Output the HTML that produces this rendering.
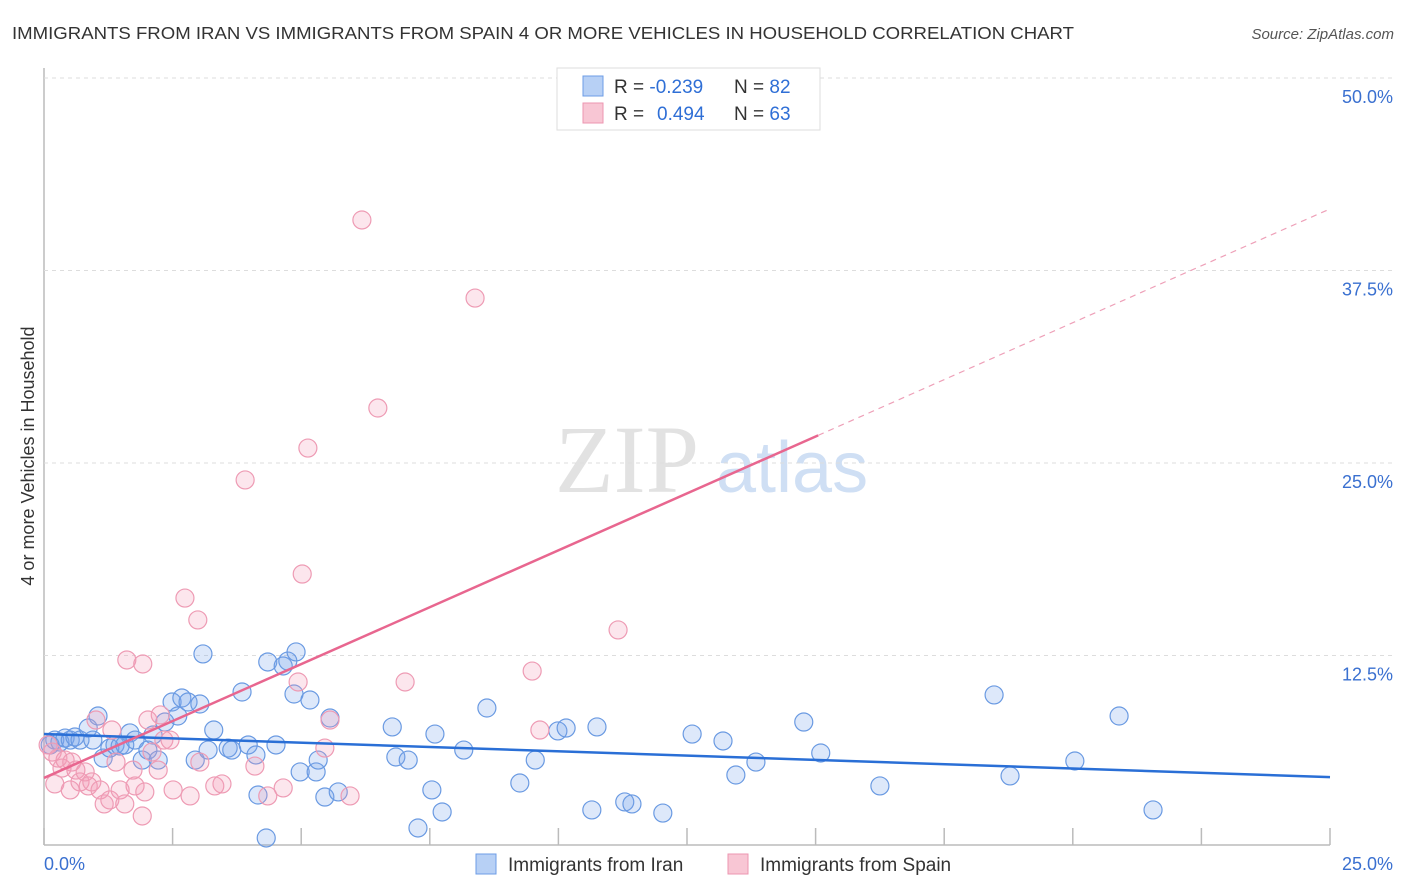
<!DOCTYPE html>
<html><head><meta charset="utf-8"><style>
body{margin:0;background:#fff;font-family:"Liberation Sans",sans-serif;}
#wrap{position:relative;width:1406px;height:892px;overflow:hidden;}
</style></head><body>
<div id="wrap">
<svg id="svg" width="1406" height="892" xmlns="http://www.w3.org/2000/svg">
<text x="12" y="39" font-size="17.5" fill="#333" textLength="1062" lengthAdjust="spacingAndGlyphs">IMMIGRANTS FROM IRAN VS IMMIGRANTS FROM SPAIN 4 OR MORE VEHICLES IN HOUSEHOLD CORRELATION CHART</text>
<text x="1394" y="39" font-size="15" fill="#555" font-style="italic" text-anchor="end">Source: ZipAtlas.com</text>
<text transform="translate(34,456) rotate(-90)" font-size="18" fill="#333" text-anchor="middle">4 or more Vehicles in Household</text>
<text x="555" y="492" font-size="96" fill="#e2e2e2" font-family="Liberation Serif">ZIP</text>
<text x="716" y="492" font-size="72" fill="#cfdff4">atlas</text>
<g id="grid"></g><g id="pts"></g><g id="lines"></g>
<g>
<rect x="557" y="68" width="263" height="62" fill="#fff" stroke="#ddd"/>
<rect x="583" y="76" width="20" height="20" fill="#b7d0f5" stroke="#6c9ce6"/>
<rect x="583" y="103" width="20" height="20" fill="#f8c6d4" stroke="#ec96b0"/>
<text x="614" y="93" font-size="19" fill="#333">R = <tspan fill="#2f6fd6">-0.239</tspan><tspan x="734">N = </tspan><tspan fill="#2f6fd6">82</tspan></text>
<text x="614" y="120" font-size="19" fill="#333">R = <tspan fill="#2f6fd6" x="657">0.494</tspan><tspan x="734">N = </tspan><tspan fill="#2f6fd6">63</tspan></text>
</g>
<g>
<rect x="476" y="854" width="20" height="20" fill="#b7d0f5" stroke="#6c9ce6"/>
<text x="508" y="871" font-size="19" fill="#333">Immigrants from Iran</text>
<rect x="728" y="854" width="20" height="20" fill="#f8c6d4" stroke="#ec96b0"/>
<text x="760" y="871" font-size="19" fill="#333">Immigrants from Spain</text>
</g>
</svg></div>
<script>
const iranX=[0.12,0.21,0.31,0.41,0.51,0.60,0.70,0.86,0.95,1.05,1.15,1.28,1.38,1.48,1.57,1.67,1.77,1.91,2.02,2.12,2.22,2.35,2.49,2.60,2.68,2.80,2.94,3.03,3.09,3.19,3.30,3.58,3.65,3.85,3.97,4.12,4.16,4.32,4.35,4.51,4.65,4.74,4.86,4.90,4.98,5.17,5.29,5.33,5.46,5.56,5.72,6.77,6.84,7.08,7.27,7.54,7.60,7.74,8.16,8.61,9.25,9.55,9.99,10.15,10.65,10.75,11.29,11.43,12.03,12.60,13.20,13.45,13.84,14.77,15.10,16.25,18.47,18.78,20.04,20.90,21.56];
const iranY=[6.69,7.01,6.88,7.14,7.01,7.21,7.01,7.79,7.01,8.57,5.84,6.49,6.69,6.62,6.69,7.47,7.01,5.71,6.36,7.34,5.71,8.18,9.48,8.57,9.74,9.48,5.71,9.35,12.60,6.36,7.66,6.49,6.36,10.13,6.69,6.04,3.44,0.65,12.08,6.69,11.82,12.14,10.00,12.73,4.94,9.61,4.94,5.71,3.31,8.44,3.64,7.86,5.91,5.71,1.30,3.77,7.40,2.34,6.36,9.09,4.22,5.71,7.60,7.79,2.47,7.86,2.99,2.86,2.27,7.40,6.95,4.74,5.58,8.18,6.17,4.03,9.94,4.68,5.65,8.57,2.47];
const spainX=[0.08,0.16,0.21,0.27,0.35,0.41,0.51,0.54,0.62,0.70,0.80,0.86,0.93,1.01,1.09,1.17,1.28,1.32,1.40,1.48,1.57,1.61,1.73,1.77,1.91,1.92,1.96,2.02,2.10,2.22,2.26,2.33,2.45,2.51,2.74,2.84,2.99,3.03,3.32,3.46,3.91,4.10,4.35,4.65,4.94,5.02,5.13,5.46,5.56,5.95,6.18,6.49,7.02,8.38,9.49,9.64,11.16];
const spainY=[6.69,6.23,4.16,5.84,5.19,5.71,3.77,5.58,5.06,4.29,4.94,4.03,4.29,8.31,3.77,2.86,3.12,7.66,5.58,3.77,2.86,12.21,5.06,4.03,2.08,11.95,3.64,8.31,6.23,5.06,8.64,7.01,7.01,3.77,16.23,3.38,14.81,5.58,4.03,4.16,23.90,5.32,3.38,3.90,10.78,17.79,25.97,6.49,8.31,3.38,40.78,28.57,10.78,35.71,11.49,7.66,14.16];
const yTicks=[12.5,25,37.5,50];
const yTickLabels=["12.5%","25.0%","37.5%","50.0%"];
const xTicks=[0,2.5,5,7.5,10,12.5,15,17.5,20,22.5,25];
const iranTrend=[7.4,4.6];
const spainTrend=[4.55,41.5];
const spainSolidEnd=15.05;
const NS="http://www.w3.org/2000/svg";
const sx=v=>44+v*51.44, sy=v=>848-v*15.4;
function mk(tag,attrs,parent){const e=document.createElementNS(NS,tag);for(const k in attrs)e.setAttribute(k,attrs[k]);document.getElementById(parent).appendChild(e);return e;}
let e=mk('line',{x1:44,y1:68,x2:44,y2:845,stroke:'#bbb','stroke-width':1.5},'grid');


e=mk('line',{x1:44,y1:845,x2:1330,y2:845,stroke:'#bbb','stroke-width':1.5},'grid');


yTicks.forEach((t,i)=>{
 let g=mk('line',{x1:44,y1:sy(t),x2:1394,y2:sy(t),stroke:'#ddd','stroke-dasharray':'4,4'},'grid');
 
 
 let l=mk('text',{x:1393,y:sy(t)+25,'font-size':18,fill:'#3a70d0','text-anchor':'end'},'grid');
 l.textContent=yTickLabels[i];
 
 
});
xTicks.forEach(t=>{
 let g=mk('line',{x1:sx(t),y1:828,x2:sx(t),y2:845,stroke:'#bbb','stroke-width':1.5},'grid');
 
 
});
let xl=mk('text',{x:44,y:870,'font-size':18,fill:'#3a70d0'},'grid');xl.textContent='0.0%';


xl=mk('text',{x:1393,y:870,'font-size':18,fill:'#3a70d0','text-anchor':'end'},'grid');xl.textContent='25.0%';


iranX.forEach((x,i)=>{
 let c=mk('circle',{cx:sx(x),cy:sy(iranY[i]),r:9,fill:'rgba(120,165,235,0.25)',stroke:'#6a9ae2','stroke-width':1.2},'pts');
 
 
});
spainX.forEach((x,i)=>{
 let c=mk('circle',{cx:sx(x),cy:sy(spainY[i]),r:9,fill:'rgba(245,155,185,0.25)',stroke:'#ee9bb4','stroke-width':1.2},'pts');
 
 
});
let ln=mk('line',{x1:sx(0),y1:sy(iranTrend[0]),x2:sx(25),y2:sy(iranTrend[1]),stroke:'#2a6fd6','stroke-width':2.5},'lines');


const sMid=spainTrend[0]+(spainTrend[1]-spainTrend[0])*spainSolidEnd/25;
ln=mk('line',{x1:sx(0),y1:sy(spainTrend[0]),x2:sx(spainSolidEnd),y2:sy(sMid),stroke:'#e8668f','stroke-width':2.5},'lines');


ln=mk('line',{x1:sx(spainSolidEnd),y1:sy(sMid),x2:sx(25),y2:sy(spainTrend[1]),stroke:'#eea0b8','stroke-width':1.2,'stroke-dasharray':'6,5'},'lines');


</script>
</body></html>
